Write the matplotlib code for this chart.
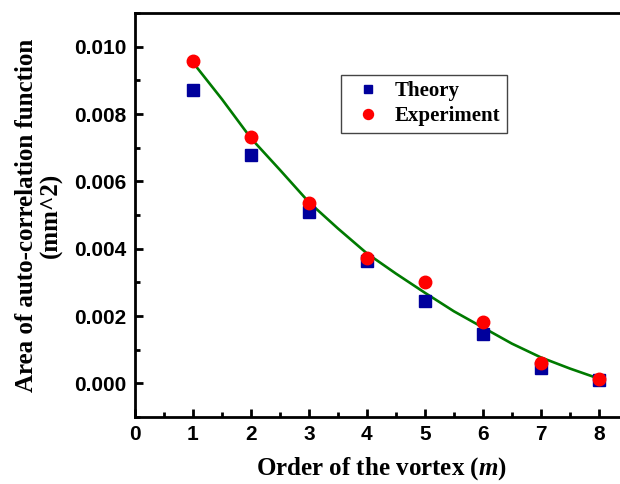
import matplotlib.pyplot as plt
from matplotlib.ticker import MultipleLocator, FormatStrFormatter

plt.rcParams['mathtext.fontset'] = 'custom'
plt.rcParams['mathtext.bfit'] = 'Liberation Serif:italic:bold'
plt.rcParams['mathtext.it'] = 'Liberation Serif:italic:bold'

# values
order = [1, 2, 3, 4, 5, 6, 7, 8]
theory = [0.00872, 0.00679, 0.00509, 0.00363, 0.00244, 0.00146, 0.00047, 0.00011]
experiment = [0.00956, 0.00732, 0.00536, 0.00371, 0.00301, 0.00182, 0.00059, 0.00014]

# fitted curve, every half step
fit_x = [1, 1.5, 2, 2.5, 3, 3.5, 4, 4.5, 5, 5.5, 6, 6.5, 7, 7.5, 8]
fit_y = [0.00953, 0.00844, 0.00728, 0.00634, 0.00538, 0.00460, 0.00386, 0.00326,
         0.00269, 0.00214, 0.00166, 0.00118, 0.00077, 0.00044, 0.00014]

serif = ['Liberation Serif', 'DejaVu Serif']
sans = ['Liberation Sans', 'DejaVu Sans']

fig = plt.figure(figsize=(6.2, 4.84), dpi=100)
ax = fig.add_axes([0.2177, 0.1384, 0.795, 0.8347])

ax.plot(fit_x, fit_y, color='#007a00', lw=1.9, zorder=1)
ax.plot(order, theory, 's', color='#00009c', ms=8, mec='#00009c', label='Theory', zorder=2)
ax.plot(order, experiment, 'o', color='#ff0000', ms=9, mec='#ff0000', label='Experiment', zorder=3)

ax.set_xlim(0, 8.5)
ax.set_ylim(-0.001, 0.011)
ax.xaxis.set_major_locator(MultipleLocator(1))
ax.xaxis.set_minor_locator(MultipleLocator(0.5))
ax.yaxis.set_major_locator(MultipleLocator(0.002))
ax.yaxis.set_minor_locator(MultipleLocator(0.001))
ax.yaxis.set_major_formatter(FormatStrFormatter('%.3f'))

ax.tick_params(which='both', direction='in', top=False, right=False, width=2)
ax.tick_params(which='major', length=6, pad=6)
ax.tick_params(which='minor', length=3.5)
for lab in ax.get_xticklabels() + ax.get_yticklabels():
    lab.set_family(sans)
    lab.set_fontweight('bold')
    lab.set_fontsize(15)
for sp in ax.spines.values():
    sp.set_linewidth(2)
ax.spines['right'].set_visible(False)

ax.set_xlabel('Order of the vortex ($\\mathit{m}$)', family=serif, fontweight='bold',
              fontsize=18, labelpad=8)
ax.set_ylabel('Area of auto-correlation function\n(mm^2)', family=serif, fontweight='bold',
              fontsize=18, labelpad=8, linespacing=1.1)

leg = ax.legend(loc='upper left', bbox_to_anchor=(0.417, 0.847), borderaxespad=0,
                prop={'family': serif, 'weight': 'bold', 'size': 15},
                fancybox=False, framealpha=1, edgecolor='#444444', markerscale=0.8,
                handletextpad=0.3, handlelength=2.0, labelspacing=0.25, borderpad=0.3)
leg.get_frame().set_linewidth(1)

fig.savefig('out.png', dpi=100)
